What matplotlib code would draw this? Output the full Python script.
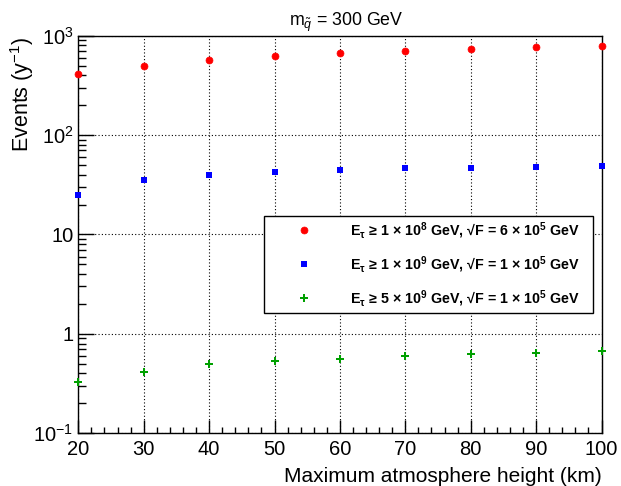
import matplotlib
matplotlib.use("Agg")
import matplotlib.pyplot as plt
from matplotlib.ticker import FixedLocator, FixedFormatter, MultipleLocator, LogLocator, NullFormatter

plt.rcParams['font.family'] = ['Liberation Sans', 'DejaVu Sans']
plt.rcParams['mathtext.fontset'] = 'custom'
plt.rcParams['mathtext.rm'] = 'Liberation Sans'
plt.rcParams['mathtext.it'] = 'Liberation Sans:italic'
plt.rcParams['mathtext.bf'] = 'Liberation Sans:bold'

height_km = [20, 30, 40, 50, 60, 70, 80, 90, 100]
events_1e8 = [412, 499, 574, 625, 665, 697, 730, 764, 782]
events_1e9 = [25.2, 35.2, 39.9, 42.1, 44.5, 46.9, 47.2, 48.0, 49.1]
events_5e9 = [0.327, 0.415, 0.495, 0.531, 0.565, 0.597, 0.625, 0.644, 0.670]

labels = [
    r"E$_{\mathbf{\tau}}$ ≥ 1 × 10$^{\mathbf{8}}$ GeV, √F = 6 × 10$^{\mathbf{5}}$ GeV",
    r"E$_{\mathbf{\tau}}$ ≥ 1 × 10$^{\mathbf{9}}$ GeV, √F = 1 × 10$^{\mathbf{5}}$ GeV",
    r"E$_{\mathbf{\tau}}$ ≥ 5 × 10$^{\mathbf{9}}$ GeV, √F = 1 × 10$^{\mathbf{5}}$ GeV",
]
ytick_vals = [0.1, 1, 10, 100, 1000]
ytick_labels = [r"10$^{-1}$", "1", "10", r"10$^{2}$", r"10$^{3}$"]

W, H = 621, 486
fig = plt.figure(figsize=(W/100, H/100), dpi=100)
L, R, T, B = 78.3, 601.5, 35.7, 433.3
ax = fig.add_axes([L/W, 1-B/H, (R-L)/W, (B-T)/H])

ax.set_yscale('log')
ax.set_xlim(20, 100)
ax.set_ylim(0.1, 1000)

ax.plot(height_km, events_1e8, linestyle='none', marker='o', ms=5, color='#ff0000', mec='#ff0000', mew=0.5, clip_on=False, zorder=5, label=labels[0])
ax.plot(height_km, events_1e9, linestyle='none', marker='s', ms=4.8, color='#0000ff', mec='#0000ff', mew=0, clip_on=False, zorder=5, label=labels[1])
ax.plot(height_km, events_5e9, linestyle='none', marker='P', ms=5.5, color='#00a000', mec='#00a000', mew=0, clip_on=False, zorder=5, label=labels[2])

ax.xaxis.set_major_locator(MultipleLocator(10))
ax.xaxis.set_minor_locator(MultipleLocator(2))
ax.yaxis.set_major_locator(FixedLocator(ytick_vals))
ax.yaxis.set_major_formatter(FixedFormatter(ytick_labels))
ax.yaxis.set_minor_locator(LogLocator(base=10, subs=range(2, 10)))
ax.yaxis.set_minor_formatter(NullFormatter())

ax.tick_params(which='both', direction='in', top=False, right=False, labelsize=14.5, width=1, color='black')
ax.tick_params(axis='x', which='major', length=9.2)
ax.tick_params(axis='x', which='minor', length=4.5)
ax.tick_params(axis='y', which='major', length=11.3)
ax.tick_params(axis='y', which='minor', length=5.5)
ax.tick_params(axis='x', pad=4.5)
ax.tick_params(axis='y', pad=3.5)

ax.grid(True, which='major', linestyle=(0, (1, 2)), color='black', linewidth=0.8)
for s in ax.spines.values():
    s.set_linewidth(1.0)

ax.set_xlabel("Maximum atmosphere height (km)", fontsize=15, ha='right', va='baseline')
ax.xaxis.set_label_coords(1.0, -(481.5-B)/(B-T))
ax.set_ylabel(r"Events (y$^{-1}$)", fontsize=15.5, ha='right', va='baseline', rotation_mode='anchor')
ax.yaxis.set_label_coords(-(L-29)/(R-L), 1-(37-T)/(B-T))

fig.text(346/W, 1-26/H, r"m$_{\tilde{q}}$ = 300 GeV", ha='center', va='baseline', fontsize=12.8)

fs_leg = 10.3
fs_px = fs_leg*100/72
bp = 0.3
hl = (40.6 - bp*fs_px)*2/fs_px
tp = (86.6 - bp*fs_px - hl*fs_px)/fs_px
leg = ax.legend(loc='upper left', bbox_to_anchor=(263.7/W, 1-311/H, (593.3-263.7)/W, 95.3/H),
                bbox_transform=fig.transFigure, mode='expand', fancybox=False,
                framealpha=1, edgecolor='black', borderaxespad=0, borderpad=bp,
                labelspacing=0.95, handlelength=hl, handletextpad=tp,
                prop={'weight': 'bold', 'size': fs_leg})
leg.get_frame().set_linewidth(1.0)

fig.savefig("out.png", dpi=100)
